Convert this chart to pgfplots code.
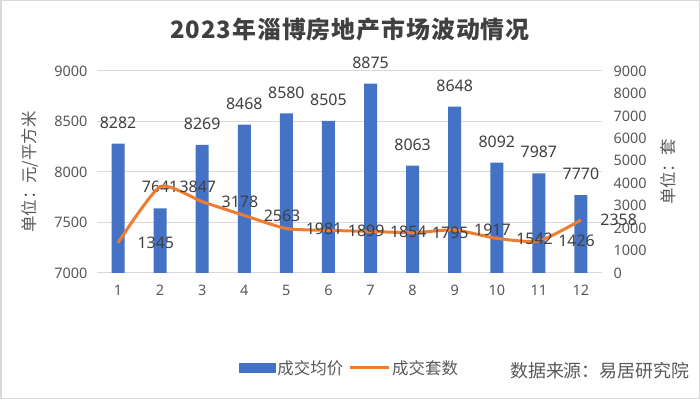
\documentclass[border=0pt]{standalone}
\usepackage{fontspec}
\setmainfont{Noto Sans CJK SC}
\newfontfamily\titlefont[LetterSpace=4]{Noto Sans CJK SC}
\newfontfamily\numfont{Noto Sans}
\usepackage{pgfplots}
\usepackage{pgfplotstable}
\pgfplotsset{compat=1.18}
\pgfplotsset{/pgf/number format/assume math mode=true, /pgf/number format/set thousands separator={}}
\definecolor{barblue}{HTML}{4472C4}
\definecolor{lineorange}{HTML}{ED7D31}
\definecolor{ticktext}{HTML}{595959}
\definecolor{labeltext}{HTML}{404040}
\definecolor{gridc}{HTML}{D9D9D9}

\pgfplotstableread{
m price
1 8282
2 7641
3 8269
4 8468
5 8580
6 8505
7 8875
8 8063
9 8648
10 8092
11 7987
12 7770
}\pricedata

\pgfplotstableread{
m count
1 1345
2 3847
3 3178
4 2563
5 1981
6 1899
7 1854
8 1795
9 1917
10 1542
11 1426
12 2358
}\countdata

\pgfplotsset{
  common/.style={at={(97bp,126bp)}, anchor=south west, scale only axis,
    width=505bp, height=202bp, xmin=0.5, xmax=12.5,
    xticklabel={\pgfmathprintnumber[assume math mode=true]{\tick}},
    yticklabel={\pgfmathprintnumber[assume math mode=true]{\tick}}},
}

\begin{document}
\begin{tikzpicture}
\useasboundingbox (0,0) rectangle (700bp,399bp);
\fill[white] (0,0) rectangle (700bp,399bp);
\draw[gridc, line width=1.5bp] (0.75bp,0.75bp) rectangle (699.25bp,398.25bp);

% bars, left axis
\begin{axis}[common,
  ymin=7000, ymax=9000, ytick={7000,7500,...,9000}, xtick={1,...,12},
  axis line style={draw=none}, ymajorgrids, grid style={gridc, line width=1bp},
  major tick length=0pt,
  ticklabel style={font=\numfont\fontsize{14.5}{15}\selectfont, text=ticktext},
  yticklabel style={xshift=-6bp}, xticklabel style={yshift=-8.5bp},
  ylabel={单位：元/平方米},
  ylabel style={at={(axis description cs:-0.133,0.5)}, anchor=center,
    font=\fontsize{16.5}{16.5}\selectfont, text=ticktext},
]
\addplot[ybar, bar width=13bp, fill=barblue, draw=none] table[x=m, y=price]{\pricedata};
\end{axis}

% bar labels
\begin{axis}[common, ymin=7000, ymax=9000, hide axis, clip=false,
  nodes near coords,
  nodes near coords style={anchor=south, inner sep=0pt, yshift=15bp,
    font=\numfont\fontsize{16}{16}\selectfont, text=labeltext},
]
\addplot[draw=none, mark=none] table[x=m, y=price]{\pricedata};
\end{axis}

% line, right axis
\begin{axis}[common,
  ymin=0, ymax=9000, ytick={0,1000,...,9000},
  axis y line*=right, axis x line=none, axis line style={draw=none},
  major tick length=0pt, clip=false,
  yticklabel style={xshift=8bp, font=\numfont\fontsize{14.5}{15}\selectfont, text=ticktext},
  ylabel={单位：套},
  ylabel style={at={(axis description cs:1.131,0.5)}, anchor=center, rotate=0,
    font=\fontsize{16.5}{16.5}\selectfont, text=ticktext},
  legend style={at={(axis description cs:0.5,-0.47)}, anchor=center, draw=none, fill=none,
    legend columns=-1, font=\fontsize{16.5}{16.5}\selectfont, text=ticktext,
    /tikz/every even column/.append style={column sep=3bp}},
]
\addlegendimage{legend image code/.code={\fill[barblue] (0bp,-4.5bp) rectangle (36bp,4.5bp);}}
\addlegendentry{成交均价}
\addplot[lineorange, line width=3bp, smooth, tension=0.35, mark=none,
  nodes near coords,
  nodes near coords style={anchor=west, inner sep=0pt, xshift=18bp,
    font=\numfont\fontsize{16}{16}\selectfont, text=labeltext},
  legend image code/.code={\draw[lineorange, line width=3bp] (0bp,0bp) -- (39bp,0bp);},
] table[x=m, y=count]{\countdata};
\addlegendentry{成交套数}
\end{axis}

\node[font={\fontsize{24}{28}\titlefont\bfseries}, text=labeltext] at (350bp,370bp) {2023年淄博房地产市场波动情况};
\node[anchor=east, font=\fontsize{18}{18}\selectfont, text=ticktext] at (693bp,28bp) {数据来源：易居研究院};
\end{tikzpicture}
\end{document}
